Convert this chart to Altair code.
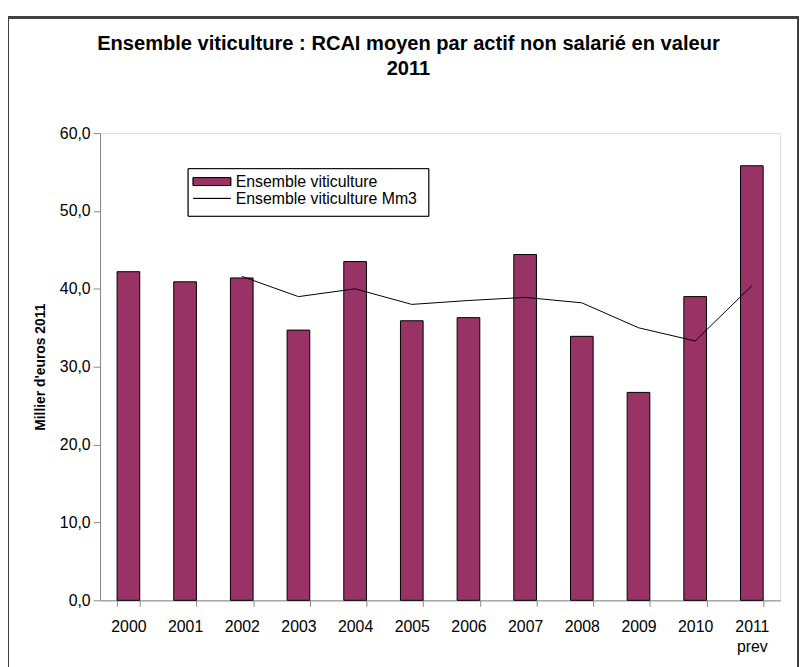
import altair as alt
import pandas as pd

years = ["2000", "2001", "2002", "2003", "2004", "2005", "2006", "2007", "2008", "2009", "2010", "2011"]
rcai = [42.2, 40.9, 41.4, 34.7, 43.5, 35.9, 36.3, 44.4, 33.9, 26.7, 39.0, 55.8]
mm3 = [None, None, 41.6, 39.0, 40.0, 38.0, 38.5, 38.9, 38.2, 35.0, 33.3, 40.4]

title_lines = ["Ensemble viticulture : RCAI moyen par actif non salarié en valeur", "2011"]
y_title = "Millier d'euros 2011"
legend_labels = ["Ensemble viticulture", "Ensemble viticulture Mm3"]

df = pd.DataFrame({"year": years, "rcai": rcai, "mm3": mm3})

FONT = "Liberation Sans"
BAR = "#993366"

x_enc = alt.X(
    "year:N",
    sort=years,
    scale=alt.Scale(paddingInner=0.6, paddingOuter=0.3),
    axis=alt.Axis(
        title=None,
        tickBand="extent",
        tickSize=6,
        labelPadding=12,
        labelAngle=0,
        labelFontSize=16,
        labelLineHeight=21,
        labelExpr="datum.value == '2011' ? ['2011', 'prev'] : datum.value",
    ),
)

y_enc = alt.Y(
    "rcai:Q",
    scale=alt.Scale(domain=[0, 60]),
    axis=alt.Axis(
        title=y_title,
        values=[0, 10, 20, 30, 40, 50, 60],
        tickSize=7,
        labelPadding=3,
        labelFontSize=16,
        titleFontSize=14,
        titleFontWeight="bold",
        titlePadding=12,
        grid=False,
        labelExpr="replace(format(datum.value, '.1f'), '.', ',')",
    ),
)

base = alt.Chart(df)

bars = base.mark_bar(color=BAR, stroke="black", strokeWidth=1).encode(x=x_enc, y=y_enc)

line = base.transform_filter("isValid(datum.mm3)").mark_line(color="black", strokeWidth=1).encode(
    x=alt.X("year:N", sort=years), y=alt.Y("mm3:Q")
)

# outer frame
frame = base.mark_rect(fill=None, stroke="#404040", strokeWidth=2).encode(
    x=alt.value(-93), x2=alt.value(705), y=alt.value(-117), y2=alt.value(600)
)

# legend (decoration)
leg_df = pd.DataFrame({"label": legend_labels})
leg_box = alt.Chart(leg_df).mark_rect(fill="white", stroke="black", strokeWidth=1).encode(
    x=alt.value(89), x2=alt.value(332), y=alt.value(36), y2=alt.value(84)
)
leg_swatch = alt.Chart(leg_df).mark_rect(fill=BAR, stroke="black", strokeWidth=1).encode(
    x=alt.value(94), x2=alt.value(132), y=alt.value(45), y2=alt.value(53)
)
leg_line = alt.Chart(leg_df).mark_rule(color="black", strokeWidth=1).encode(
    x=alt.value(94), x2=alt.value(132), y=alt.value(66)
)
leg_t1 = alt.Chart(leg_df).transform_filter(alt.datum.label == legend_labels[0]).mark_text(
    align="left", baseline="middle", font=FONT, fontSize=16, color="black"
).encode(text="label:N", x=alt.value(137), y=alt.value(49))
leg_t2 = alt.Chart(leg_df).transform_filter(alt.datum.label == legend_labels[1]).mark_text(
    align="left", baseline="middle", font=FONT, fontSize=16, color="black"
).encode(text="label:N", x=alt.value(137), y=alt.value(67))

chart = alt.layer(frame, bars, line, leg_box, leg_swatch, leg_line, leg_t1, leg_t2).properties(
    width=687,
    height=472,
    autosize=alt.AutoSizeParams(type="none"),
    padding={"left": 93, "top": 123, "right": 19, "bottom": 64},
    title=alt.TitleParams(
        text=title_lines,
        font=FONT,
        fontSize=20.3,
        fontWeight="bold",
        color="black",
        anchor="middle",
        baseline="alphabetic",
        dx=-32,
        offset=-80,
        lineHeight=26,
    ),
).configure_view(stroke="#808080", strokeWidth=1).configure_axis(
    domainColor="black",
    tickColor="black",
    labelColor="black",
    titleColor="black",
    labelFont=FONT,
    titleFont=FONT,
).configure(background="white")

chart.save("out.html", embed_options={"renderer": "svg", "actions": False})
